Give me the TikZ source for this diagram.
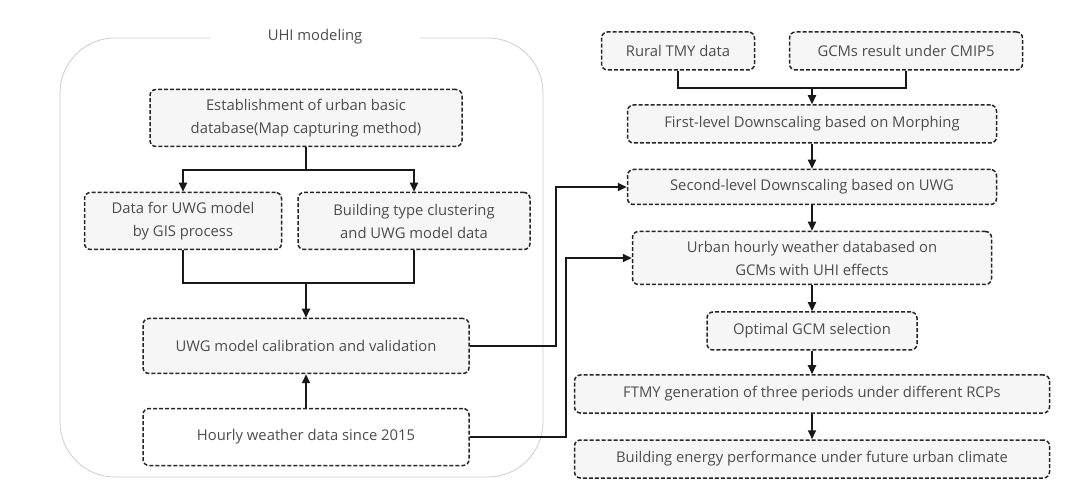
\documentclass[tikz,border=0pt]{standalone}
\usepackage{fontspec}
\setmainfont{Open Sans}
\usetikzlibrary{arrows.meta}

\begin{document}
\begin{tikzpicture}[x = 1pt, y = -1pt]
			    \tikzstyle{edge}=[draw,line width = 1.9pt,-,black!90]
			    \tikzstyle{arrow}=[edge,-{Triangle[length=9pt,width=8pt]}]
			    \tikzstyle{box}=[draw,dash pattern=on 4pt off 2pt,line width = 1.5pt,black!85,fill=gray!7,rounded corners=6pt,
			        text=black!70,font=\fontsize{14.8}{23}\selectfont,align=center,inner sep=2pt]
			    \tikzstyle{frame}=[draw,line width = .8pt,gray!40,rounded corners=55pt]
			    \useasboundingbox (0,0) rectangle (1076,502);
			    % UHI modeling group
			    \draw[frame] (210,38) -- (60,38) -- (60,477) -- (543,477) -- (543,38) -- (420,38);
			    \node[text=black!70,font=\fontsize{14.8}{18}\selectfont] (uhi) at (315,37) {UHI modeling};
			    \node[box,minimum width=312pt,minimum height=57pt] (est) at (306,118) {Establishment of urban basic\\database(Map capturing method)};
			    \node[box,minimum width=197pt,minimum height=57pt] (gis) at (183,221) {Data for UWG model\\by GIS process};
			    \node[box,minimum width=232pt,minimum height=57pt] (bld) at (414,221) {Building type clustering\\and UWG model data};
			    \node[box,minimum width=326pt,minimum height=55pt] (calib) at (306,346) {UWG model calibration and validation};
			    \node[box,fill=white,minimum width=326pt,minimum height=57pt] (hourly) at (306,437) {Hourly weather data since 2015};
			    % future weather chain
			    \node[box,minimum width=153pt,minimum height=38pt] (rural) at (678,51) {Rural TMY data};
			    \node[box,minimum width=233pt,minimum height=38pt] (gcm) at (906,51) {GCMs result under CMIP5};
			    \node[box,minimum width=369pt,minimum height=38pt] (first) at (812,124) {First-level Downscaling based on Morphing};
			    \node[box,minimum width=369pt,minimum height=35pt] (second) at (812,187) {Second-level Downscaling based on UWG};
			    \node[box,minimum width=359pt,minimum height=53pt] (urban) at (812,258) {Urban hourly weather databased on\\GCMs with UHI effects};
			    \node[box,minimum width=210pt,minimum height=38pt] (optimal) at (812,331) {Optimal GCM selection};
			    \node[box,minimum width=475pt,minimum height=38pt] (ftmy) at (812,394) {FTMY generation of three periods under different RCPs};
			    \node[box,minimum width=475pt,minimum height=38pt] (energy) at (812,459) {Building energy performance under future urban climate};
			    \coordinate (split) at (306,170);
			    \coordinate (merge) at (306,283);
			    \coordinate (join) at (812,88);
			    % left part
			    \draw[edge] (est.south) -- (split);
			    \draw[arrow] (split) -| (gis.north);
			    \draw[arrow] (split) -| (bld.north);
			    \draw[edge] (gis.south) |- (merge);
			    \draw[edge] (bld.south) |- (merge);
			    \draw[arrow] (merge) -- (calib.north);
			    \draw[arrow] (hourly.north) -- (calib.south);
			    % links across
			    \draw[arrow] (calib.east) -- ++(86,0) |- (second.west);
			    \draw[arrow] (hourly.east) -- ++(96,0) |- (urban.west);
			    % right part
			    \draw[edge] (rural.south) |- (join);
			    \draw[edge] (gcm.south) |- (join);
			    \draw[arrow] (join) -- (first.north);
			    \draw[arrow] (first) -- (second);
			    \draw[arrow] (second) -- (urban);
			    \draw[arrow] (urban) -- (optimal);
			    \draw[arrow] (optimal) -- (ftmy);
			    \draw[arrow] (ftmy) -- (energy);
			\end{tikzpicture}
\end{document}
